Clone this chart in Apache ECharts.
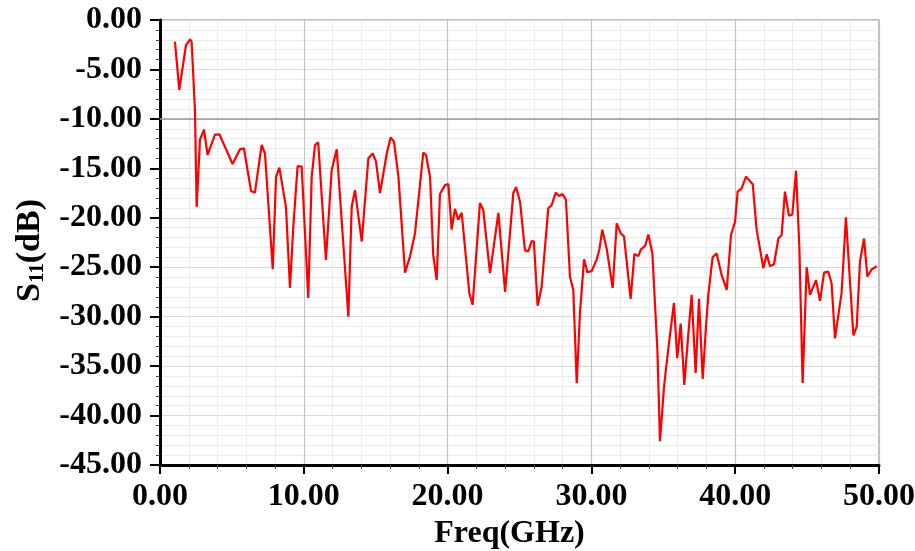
<!DOCTYPE html>
<html>
<head>
<meta charset="utf-8">
<script src="https://cdn.jsdelivr.net/npm/echarts@6/dist/echarts.min.js"></script>
<style>
  html, body { margin: 0; padding: 0; background: #ffffff; }
  #chart { width: 915px; height: 551px; }
</style>
</head>
<body>
<div id="chart"></div>
<script>
// Return loss S11 (dB) versus frequency (GHz)
const freqGHz = [
  1.04, 1.34, 1.81, 2.09, 2.2, 2.43, 2.55, 2.78, 3.06, 3.31, 3.82, 4.13, 5.05, 5.56, 5.84,
  6.33, 6.6, 7.07, 7.3, 7.84, 8.07, 8.3, 8.76, 9.04, 9.27, 9.57, 9.85, 10.31, 10.55, 10.78,
  11.0, 11.54, 11.94, 12.29, 13.1, 13.33, 13.56, 14.03, 14.49, 14.79, 15.02, 15.3, 15.77, 16.04, 16.27,
  16.58, 17.04, 17.39, 17.73, 18.31, 18.5, 18.78, 19.0, 19.24, 19.47, 19.82, 20.05, 20.28, 20.51, 20.74,
  20.98, 21.51, 21.74, 22.25, 22.48, 22.95, 23.53, 24.0, 24.57, 24.76, 25.04, 25.38, 25.61, 25.85, 26.0,
  26.26, 26.54, 27.0, 27.24, 27.52, 27.75, 28.0, 28.23, 28.51, 28.74, 28.98, 29.21, 29.49, 29.72, 30.02,
  30.37, 30.55, 30.76, 31.06, 31.48, 31.76, 32.04, 32.27, 32.73, 32.99, 33.26, 33.45, 33.73, 33.96, 34.24,
  34.59, 34.77, 35.05, 35.35, 35.74, 35.97, 36.21, 36.46, 36.67, 36.97, 37.25, 37.48, 37.74, 37.97, 38.13,
  38.43, 38.71, 39.06, 39.41, 39.71, 39.99, 40.17, 40.45, 40.75, 41.22, 41.49, 41.96, 42.19, 42.42, 42.7,
  43.0, 43.23, 43.46, 43.74, 43.97, 44.23, 44.46, 44.69, 44.97, 45.2, 45.62, 45.9, 46.18, 46.48, 46.7,
  46.94, 47.4, 47.7, 48.22, 48.45, 48.68, 48.96, 49.19, 49.5, 49.85
];
const s11dB = [
  -2.19, -7.08, -2.53, -1.95, -2.2, -9.1, -18.9, -12.1, -11.1, -13.65, -11.6, -11.56, -14.56, -13.08, -12.98,
  -17.3, -17.46, -12.64, -13.5, -25.2, -15.84, -14.93, -18.9, -27.1, -20.9, -14.77, -14.83, -28.1, -15.84, -12.64,
  -12.37, -24.27, -15.17, -13.08, -30.0, -18.88, -17.2, -22.4, -13.99, -13.5, -14.3, -17.5, -13.5, -11.87, -12.3,
  -15.84, -25.55, -23.9, -21.6, -13.4, -13.65, -15.84, -23.76, -26.3, -17.6, -16.7, -16.6, -21.2, -19.1, -20.2,
  -19.5, -27.6, -28.8, -18.5, -19.2, -25.6, -19.5, -27.5, -17.5, -16.9, -18.4, -23.3, -23.4, -22.35, -22.4,
  -28.9, -27.0, -19.05, -18.7, -17.46, -17.8, -17.6, -18.2, -25.96, -27.3, -36.74, -29.5, -24.2, -25.5, -25.4,
  -24.2, -23.26, -21.2, -23.1, -27.1, -20.56, -21.57, -21.9, -28.2, -23.66, -23.87, -23.2, -22.85, -21.7, -23.6,
  -33.4, -42.6, -37.1, -33.2, -28.6, -34.2, -30.7, -36.9, -33.0, -27.8, -35.7, -28.2, -36.3, -31.0, -27.8,
  -24.0, -23.6, -25.8, -27.3, -21.74, -20.4, -17.36, -17.02, -15.84, -16.6, -21.2, -25.1, -23.7, -24.9, -24.7,
  -22.1, -21.74, -17.36, -19.8, -19.7, -15.24, -22.9, -36.7, -25.0, -27.8, -26.3, -28.4, -25.55, -25.45, -26.6,
  -32.2, -27.6, -19.95, -31.9, -31.0, -24.4, -22.1, -25.96, -25.2, -24.9
];
const xRange = [0, 50];
const yRange = [-45, 0];
const refLevel = -10;

const serif = "'Times New Roman', 'Liberation Serif', serif";
const points = freqGHz.map((f, i) => [f, s11dB[i]]);

const chart = echarts.init(document.getElementById('chart'), null, { renderer: 'canvas' });
chart.setOption({
  animation: false,
  backgroundColor: '#ffffff',
  grid: {
    left: 160, right: 36, top: 20, bottom: 86,
    outerBoundsMode: 'none', containLabel: false,
    show: true, borderColor: '#a8a8a8', borderWidth: 1.5, backgroundColor: 'transparent'
  },
  xAxis: {
    type: 'value', min: xRange[0], max: xRange[1], interval: 10,
    name: 'Freq(GHz)', nameLocation: 'middle', nameGap: 50,
    nameTextStyle: { fontFamily: serif, fontWeight: 'bold', fontSize: 32, color: '#000', padding: [0, 20, 0, 0] },
    axisLine: { show: true, onZero: false, lineStyle: { color: '#000', width: 3 } },
    axisTick: { show: true, inside: false, length: 9, lineStyle: { color: '#000', width: 2 } },
    minorTick: { show: true, splitNumber: 5, length: 4, lineStyle: { color: '#444', width: 1 } },
    axisLabel: {
      margin: 16, fontFamily: serif, fontWeight: 'bold', fontSize: 32, color: '#000',
      formatter: v => v.toFixed(2)
    },
    splitLine: { show: true, lineStyle: { color: '#c4c4c4', width: 1.2 } },
    minorSplitLine: { show: true, lineStyle: { color: '#ececec', width: 1 } }
  },
  yAxis: {
    type: 'value', min: yRange[0], max: yRange[1], interval: 5,
    name: '{m|S}{sub|11}{m|(dB)}', nameLocation: 'middle', nameGap: 112, nameRotate: 90,
    nameTextStyle: {
      padding: [0, 16, 0, 0],
      rich: {
        m: { fontFamily: serif, fontWeight: 'bold', fontSize: 34, lineHeight: 36, color: '#000' },
        sub: { fontFamily: serif, fontWeight: 'bold', fontSize: 21, lineHeight: 15, color: '#000', verticalAlign: 'bottom' }
      }
    },
    axisLine: { show: true, onZero: false, lineStyle: { color: '#000', width: 3 } },
    axisTick: { show: true, inside: false, length: 10, lineStyle: { color: '#000', width: 2 } },
    minorTick: { show: true, splitNumber: 5, length: 4, lineStyle: { color: '#444', width: 1 } },
    axisLabel: {
      margin: 18, fontFamily: serif, fontWeight: 'bold', fontSize: 32, color: '#000',
      formatter: v => v.toFixed(2)
    },
    splitLine: { show: true, lineStyle: { color: '#dadada', width: 1.2 } },
    minorSplitLine: { show: true, lineStyle: { color: '#ececec', width: 1 } }
  },
  series: [{
    type: 'line',
    data: points,
    showSymbol: false,
    lineStyle: { color: '#ff0000', width: 2.2 },
    z: 5,
    markLine: {
      silent: true, symbol: 'none', label: { show: false },
      lineStyle: { color: '#999999', width: 1.5, type: 'solid' },
      data: [{ yAxis: refLevel }]
    }
  }]
});
</script>
</body>
</html>
